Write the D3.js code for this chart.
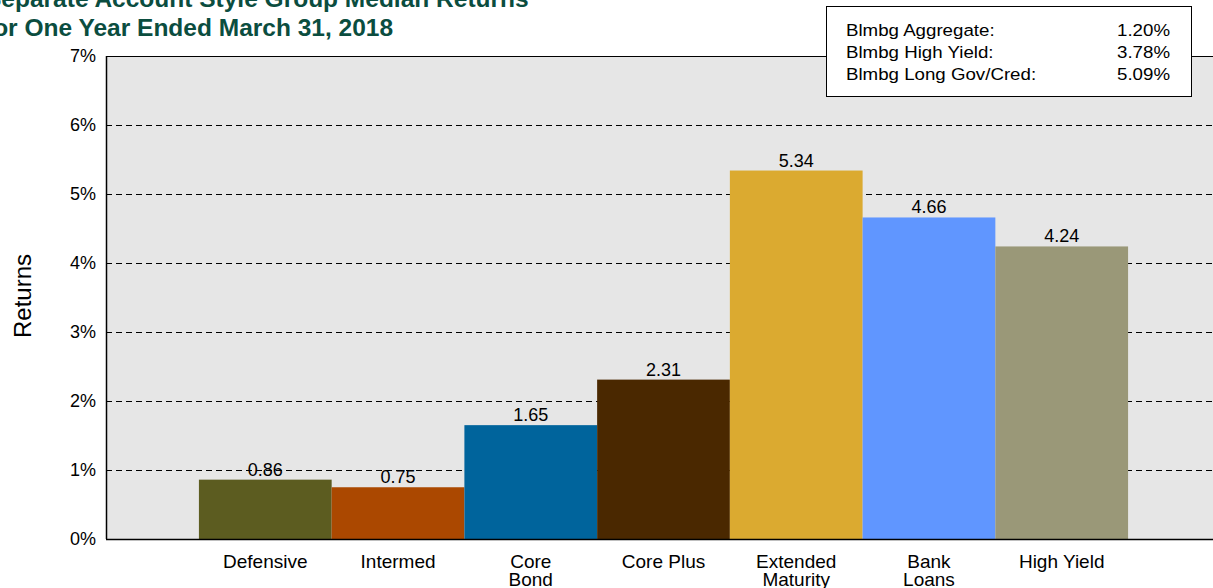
<!DOCTYPE html>
<html>
<head>
<meta charset="utf-8">
<script src="https://cdn.jsdelivr.net/npm/d3@7"></script>
<style>
  body { margin: 0; background: #fff; overflow: hidden; }
  text { font-family: "Liberation Sans", Arial, sans-serif; fill: #000; }
</style>
</head>
<body>
<div id="chart"></div>
<script>
// datos
var categories = ["Defensive", "Intermed", "Core Bond", "Core Plus", "Extended Maturity", "Bank Loans", "High Yield"];
var labelLines = [["Defensive"], ["Intermed"], ["Core", "Bond"], ["Core Plus"], ["Extended", "Maturity"], ["Bank", "Loans"], ["High Yield"]];
var medianReturns = [0.86, 0.75, 1.65, 2.31, 5.34, 4.66, 4.24];
var barColors = ["#5c5c20", "#ab4800", "#00649c", "#4a2800", "#dbaa30", "#6096ff", "#9a9878"];
var yTicks = [0, 1, 2, 3, 4, 5, 6, 7];
var indexNames = ["Blmbg Aggregate:", "Blmbg High Yield:", "Blmbg Long Gov/Cred:"];
var indexValues = ["1.20%", "3.78%", "5.09%"];
var titleLines = ["Separate Account Style Group Median Returns", "for One Year Ended March 31, 2018"];

var width = 1213, height = 588;
var plot = {left: 106, right: 1221, top: 56, bottom: 539};

var svg = d3.select("#chart").append("svg")
  .attr("width", width)
  .attr("height", height);

var x = d3.scaleBand()
  .domain(categories)
  .range([plot.left, plot.right])
  .paddingInner(0)
  .paddingOuter(0.7);

var y = d3.scaleLinear()
  .domain([0, 7])
  .range([plot.bottom, plot.top]);

// fondo del area de grafico
svg.append("rect")
  .attr("x", plot.left)
  .attr("y", plot.top)
  .attr("width", plot.right - plot.left)
  .attr("height", plot.bottom - plot.top)
  .style("fill", "#e6e6e6");

// lineas de grilla punteadas
svg.selectAll(".grid")
  .data(yTicks.filter(function(d){ return d > 0 && d < 7; }))
  .enter().append("line")
  .attr("x1", plot.left).attr("x2", plot.right)
  .attr("y1", function(d){ return y(d) + 0.5; })
  .attr("y2", function(d){ return y(d) + 0.5; })
  .style("stroke", "#000")
  .style("stroke-width", 1)
  .style("stroke-dasharray", "6,4");

// barras
svg.selectAll(".bar")
  .data(medianReturns)
  .enter().append("rect")
  .attr("x", function(d, i){ return x(categories[i]); })
  .attr("y", function(d){ return y(d); })
  .attr("width", x.bandwidth())
  .attr("height", function(d){ return y(0) - y(d); })
  .style("fill", function(d, i){ return barColors[i]; });

// etiquetas de valor
svg.selectAll(".val")
  .data(medianReturns)
  .enter().append("text")
  .attr("x", function(d, i){ return x(categories[i]) + x.bandwidth() / 2; })
  .attr("y", function(d){ return y(d) - 4; })
  .attr("text-anchor", "middle")
  .style("font-size", "18px")
  .text(function(d){ return d.toFixed(2); });

// ejes (izquierda, abajo, arriba)
svg.append("line")
  .attr("x1", plot.left + 0.5).attr("x2", plot.left + 0.5)
  .attr("y1", plot.top).attr("y2", plot.bottom)
  .style("stroke", "#000").style("stroke-width", 1.5);
svg.append("line")
  .attr("x1", plot.left).attr("x2", plot.right)
  .attr("y1", plot.bottom + 0.5).attr("y2", plot.bottom + 0.5)
  .style("stroke", "#000").style("stroke-width", 1.5);
svg.append("line")
  .attr("x1", plot.left).attr("x2", plot.right)
  .attr("y1", plot.top + 0.5).attr("y2", plot.top + 0.5)
  .style("stroke", "#000").style("stroke-width", 1);

// etiquetas del eje y
svg.selectAll(".ytick")
  .data(yTicks)
  .enter().append("text")
  .attr("x", 96)
  .attr("y", function(d){ return y(d) + 6; })
  .attr("text-anchor", "end")
  .style("font-size", "18px")
  .text(function(d){ return d + "%"; });

svg.append("text")
  .attr("transform", "translate(31,296) rotate(-90)")
  .attr("text-anchor", "middle")
  .style("font-size", "24px")
  .text("Returns");

// etiquetas del eje x
var xl = svg.selectAll(".xlab")
  .data(labelLines)
  .enter().append("text")
  .attr("text-anchor", "middle")
  .style("font-size", "19px");
xl.selectAll("tspan")
  .data(function(d, i){ return d.map(function(s){ return {s: s, i: i}; }); })
  .enter().append("tspan")
  .attr("x", function(d){ return x(categories[d.i]) + x.bandwidth() / 2; })
  .attr("y", function(d, j){ return 568 + j * 18; })
  .text(function(d){ return d.s; });

// titulo (recortado en el borde como en la imagen original)
svg.selectAll(".title")
  .data(titleLines)
  .enter().append("text")
  .attr("x", -15)
  .attr("y", function(d, i){ return 7 + i * 29; })
  .style("font-size", "24.5px")
  .style("font-weight", "bold")
  .style("fill", "#0b4d3f")
  .text(function(d){ return d; });

// cuadro con los indices
var box = svg.append("g");
box.append("rect")
  .attr("x", 826.5).attr("y", 6.5)
  .attr("width", 365).attr("height", 90)
  .style("fill", "#fff")
  .style("stroke", "#000")
  .style("stroke-width", 1);
box.selectAll(".iname")
  .data(indexNames)
  .enter().append("text")
  .attr("transform", function(d, i){ return "translate(846," + (35.5 + i * 22.3) + ") scale(1.1,1)"; })
  .style("font-size", "17px")
  .text(function(d){ return d; });
box.selectAll(".ival")
  .data(indexValues)
  .enter().append("text")
  .attr("transform", function(d, i){ return "translate(1170," + (35.5 + i * 22.3) + ") scale(1.1,1)"; })
  .attr("text-anchor", "end")
  .style("font-size", "17px")
  .text(function(d){ return d; });
</script>
</body>
</html>
